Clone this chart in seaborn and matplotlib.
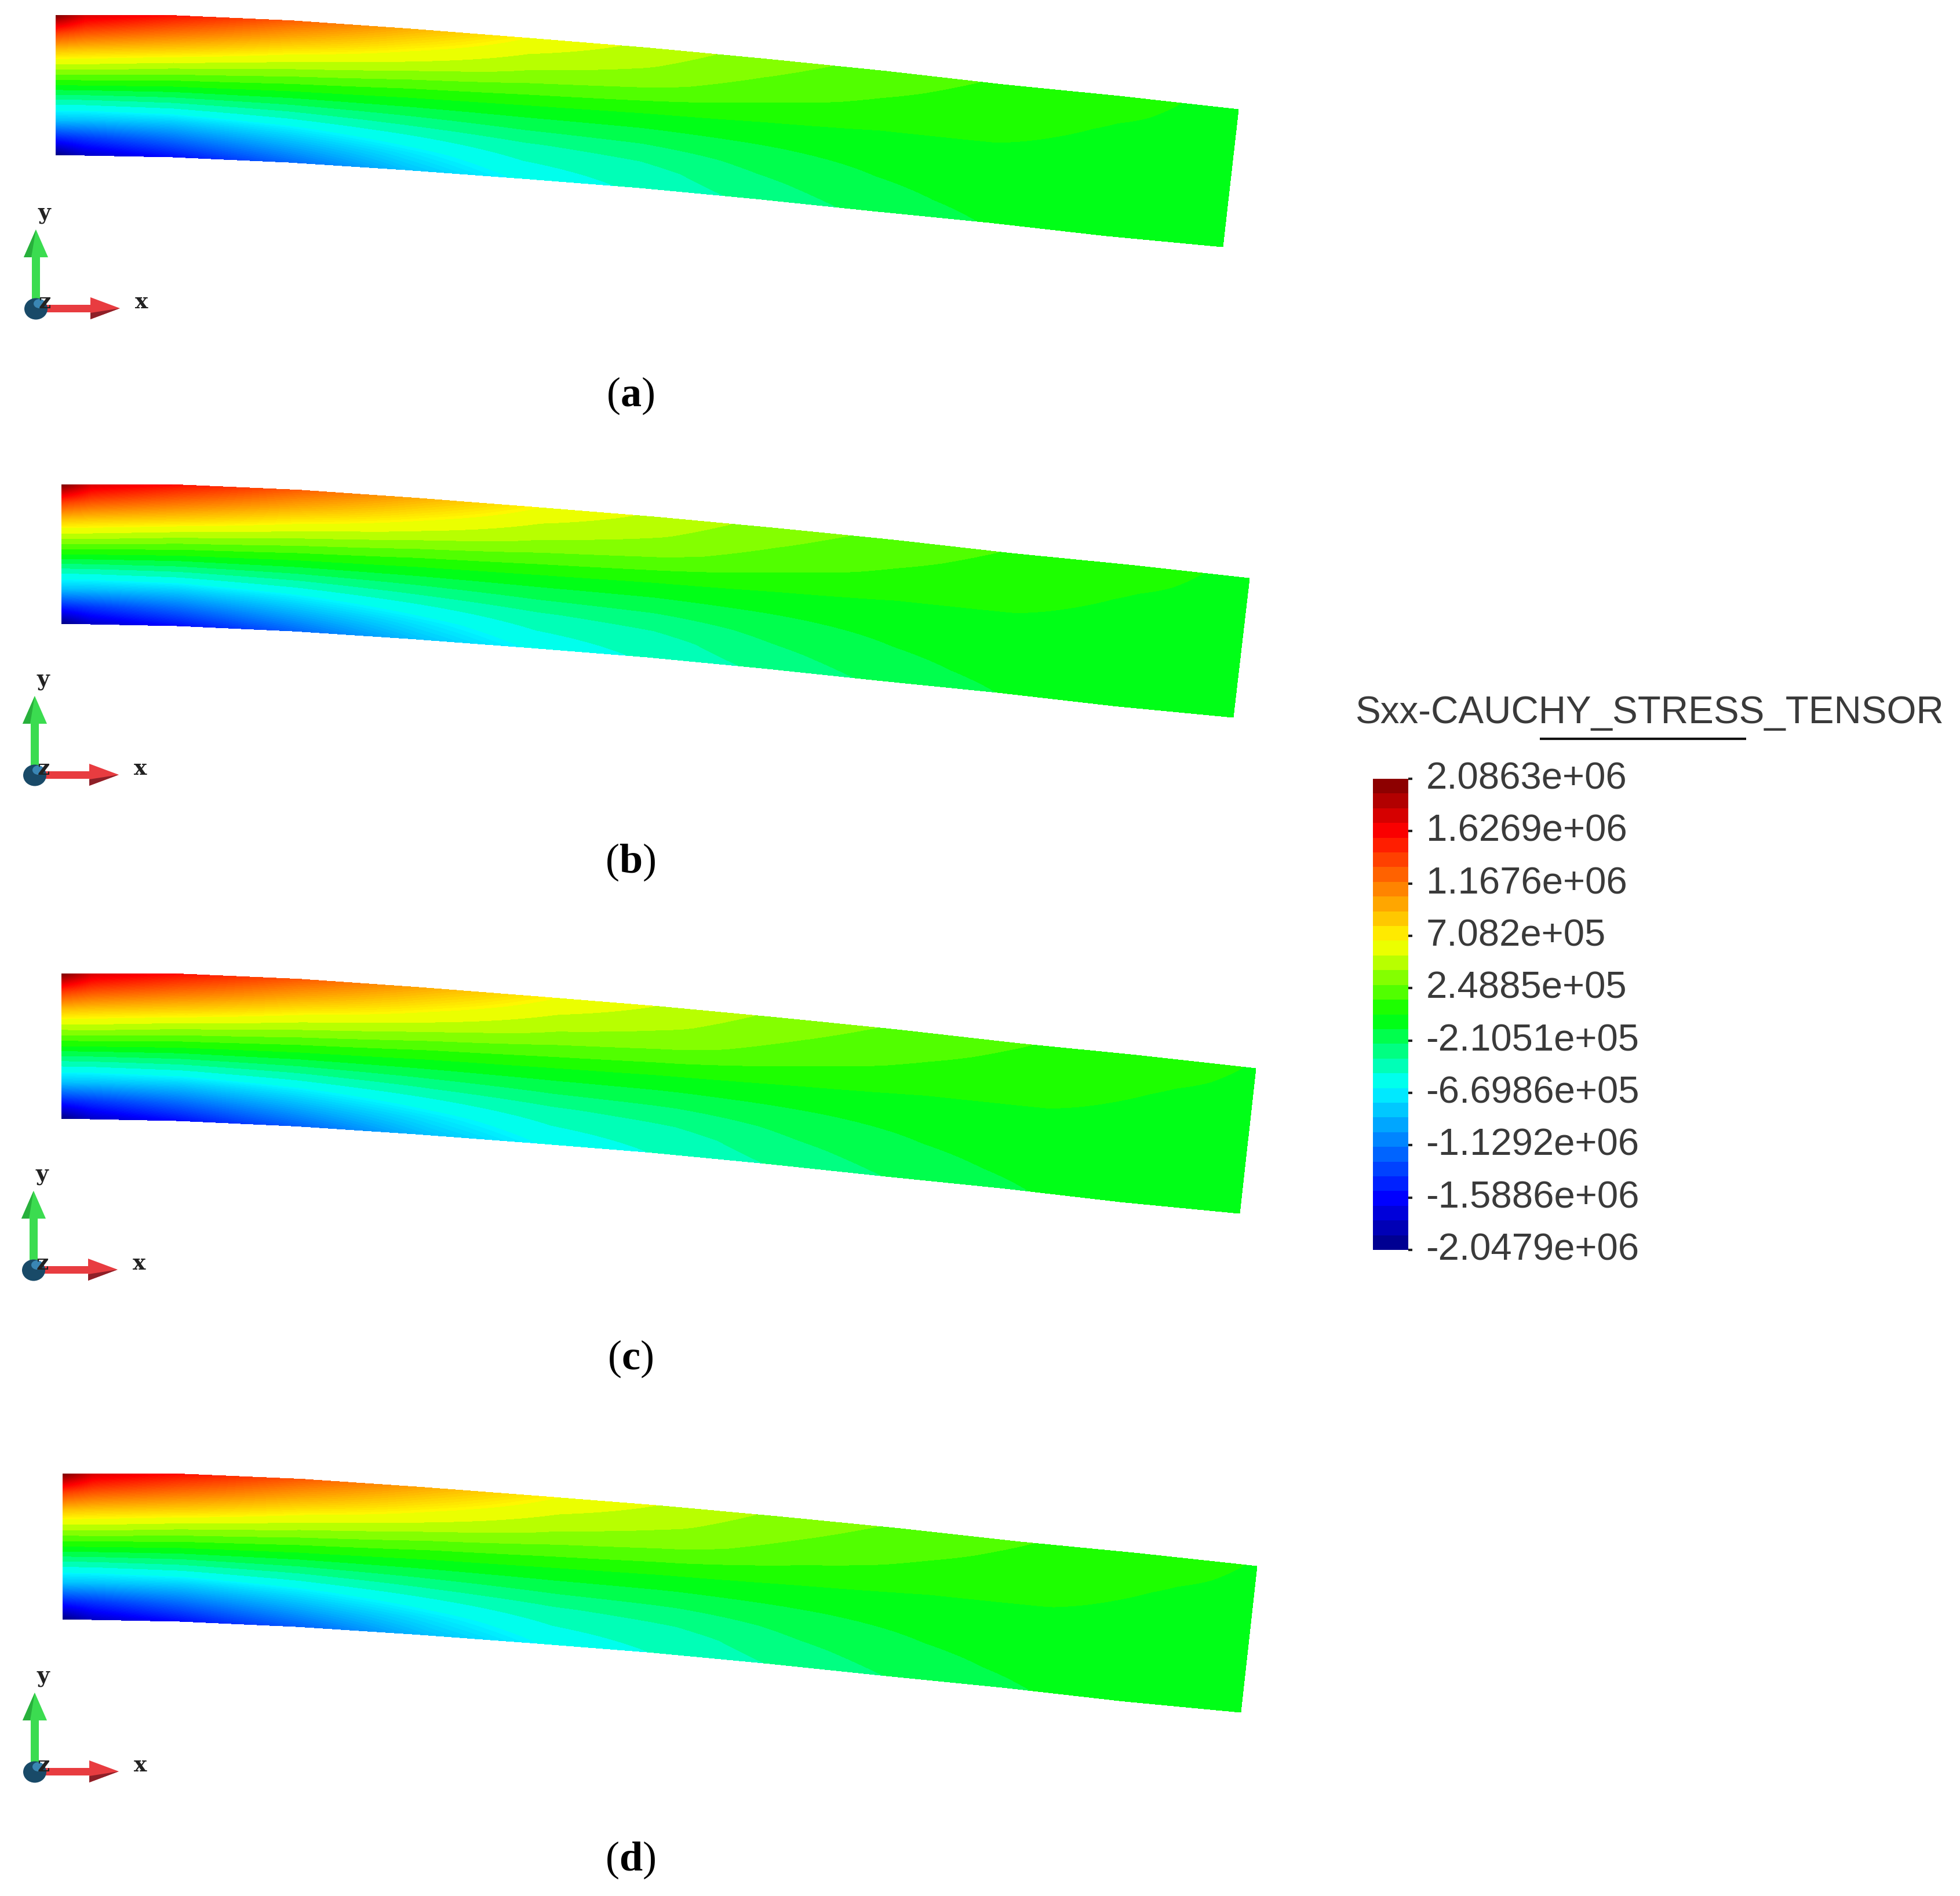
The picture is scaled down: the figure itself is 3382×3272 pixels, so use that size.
import numpy as np
import seaborn as sns
import matplotlib.pyplot as plt
from matplotlib.colors import LinearSegmentedColormap, Normalize
from matplotlib.patches import Polygon, Ellipse, Rectangle
from matplotlib.transforms import ScaledTranslation

W, H = 3382, 3273

# champ de contrainte Sxx (en 1e6 Pa), une ligne par profondeur
stations = [0, .025, .1, .2, .3, .4, .5, .6, .7, .8, .9, 1]
depths = [0, .125, .25, .375, .5, .625, .75, .875, 1]
sxx = [
    [2.08, 1.75, 1.55, 1.25, .95, .66, .50, .34, .23, .13, .045, -.005],
    [1.40, 1.30, 1.18, .95, .72, .52, .42, .28, .18, .09, .03, -.01],
    [.88, .85, .80, .63, .50, .38, .32, .20, .12, .055, .01, -.01],
    [.45, .45, .40, .32, .24, .19, .15, .09, .05, .03, -.005, -.015],
    [.02, .02, .02, .01, -.01, -.02, -.03, -.03, -.03, 0, -.01, -.02],
    [-.45, -.45, -.40, -.33, -.26, -.20, -.17, -.12, -.07, -.03, -.02, -.025],
    [-.85, -.85, -.80, -.65, -.50, -.38, -.32, -.20, -.11, -.05, -.03, -.03],
    [-1.45, -1.38, -1.18, -.92, -.70, -.50, -.42, -.27, -.15, -.07, -.04, -.035],
    [-2.04, -1.80, -1.55, -1.20, -.85, -.60, -.47, -.33, -.20, -.10, -.05, -.04],
]

# flèche relative des bords haut et bas
drop_stations = [0, .1, .2, .3, .4, .5, .6, .7, .8, .9, 1]
top_drop = [0, .005, .06, .147, .245, .347, .465, .592, .735, .86, 1]
bottom_drop = [0, .025, .082, .164, .258, .358, .478, .61, .736, .88, 1]

# géométrie des quatre poutres
panel_names = ['a', 'b', 'c', 'd']
root_x = [96, 106, 106, 108]
root_top = [27, 837, 1681, 2544]
root_bottom = [268, 1077, 1931, 2795]
tip_top_x = [2137, 2156, 2167, 2169]
tip_top_y = [190, 999, 1845, 2704]
tip_bottom_x = [2110, 2128, 2139, 2141]
tip_bottom_y = [427, 1239, 2095, 2956]
field_reach = [1, 1.01, 1.04, 1.04]
triad_x = [62, 60, 58, 60]
triad_y = [533, 1338, 2192, 3058]
label_y = [683, 1488, 2345, 3210]

# barre de couleur
tick_values = [2.0863e6, 1.6269e6, 1.1676e6, 7.082e5, 2.4885e5, -2.1051e5, -6.6986e5, -1.1292e6, -1.5886e6, -2.0479e6]
tick_labels = ['2.0863e+06', '1.6269e+06', '1.1676e+06', '7.082e+05', '2.4885e+05',
               '-2.1051e+05', '-6.6986e+05', '-1.1292e+06', '-1.5886e+06', '-2.0479e+06']
color_title = 'Sxx-CAUCHY_STRESS_TENSOR'
n_bands = 32

sns.set_theme(style='white')
plt.rcParams['font.family'] = ['Liberation Sans', 'DejaVu Sans']
plt.rcParams['mathtext.fontset'] = 'custom'
plt.rcParams['mathtext.rm'] = 'Liberation Serif'
plt.rcParams['mathtext.bf'] = 'Liberation Serif:bold'

rainbow = LinearSegmentedColormap.from_list('rainbow_vtk', [
    (0, (0, 0, .5)), (.11, (0, 0, 1)), (.35, (0, 1, 1)), (.5, (0, 1, 0)),
    (.655, (1, 1, 0)), (.89, (1, 0, 0)), (1, (.5, 0, 0))], N=256)

vmin, vmax = tick_values[-1], tick_values[0]
levels = np.linspace(vmin, vmax, n_bands + 1)
mids = (levels[:-1] + levels[1:]) / 2

# les bandes sont lissées à l'encastrement (image basse résolution), nettes au bout
beam_levels = []
for lo, hi in zip(levels[:-1], levels[1:]):
    n = 4 if abs(lo + hi) / 2 > 6.5e5 else 1
    beam_levels.extend(np.linspace(lo, hi, n, endpoint=False))
beam_levels.append(vmax)

fig = plt.figure(figsize=(W / 100, H / 100), dpi=100)
ax = fig.add_axes([0, 0, 1, 1])
ax.set_xlim(0, W)
ax.set_ylim(H, 0)
ax.axis('off')

# grille fine pour le tracé
t_fine = np.linspace(0, 1, 201)
s_fine = np.linspace(0, 1, 81)
table = np.array(sxx) * 1e6


def draw_triad(x0, y0):
    # axe y vert
    ax.add_patch(Rectangle((x0 - 7, y0 - 90), 14, 90, color='#3bdc50', lw=0))
    ax.add_patch(Polygon([(x0, y0 - 136), (x0 - 21, y0 - 88), (x0 + 21, y0 - 88)], color='#3bdc50', lw=0))
    ax.add_patch(Polygon([(x0, y0 - 136), (x0 - 21, y0 - 88), (x0 - 8, y0 - 88)], color='#28b03c', lw=0))
    # axe x rouge
    ax.add_patch(Rectangle((x0, y0 - 6), 96, 13, color='#e83c40', lw=0))
    ax.add_patch(Polygon([(x0 + 145, y0), (x0 + 94, y0 - 19), (x0 + 94, y0 + 19)], color='#e83c40', lw=0))
    ax.add_patch(Polygon([(x0 + 145, y0), (x0 + 94, y0 + 8), (x0 + 94, y0 + 19)], color='#8e2028', lw=0))
    # sphère bleue
    ax.add_patch(Ellipse((x0, y0 + 1), 40, 37, color='#194a68', lw=0))
    ax.add_patch(Ellipse((x0 + 6, y0 - 8), 20, 16, color='#3a86b4', lw=0))
    kw = dict(family='DejaVu Serif', weight='bold', fontsize=27, color='#222222', ha='center', va='center')
    ax.text(x0 + 14, y0 - 165, 'y', **kw)
    ax.text(x0 + 182, y0 - 11, 'x', **kw)
    ax.text(x0 + 15, y0 - 11, 'z', **kw)


for i, name in enumerate(panel_names):
    x_top = root_x[i] + t_fine * (tip_top_x[i] - root_x[i])
    y_top = root_top[i] + np.interp(t_fine, drop_stations, top_drop) * (tip_top_y[i] - root_top[i])
    x_bot = root_x[i] + t_fine * (tip_bottom_x[i] - root_x[i])
    y_bot = root_bottom[i] + np.interp(t_fine, drop_stations, bottom_drop) * (tip_bottom_y[i] - root_bottom[i])
    X = x_top + np.outer(s_fine, x_bot - x_top)
    Y = y_top + np.outer(s_fine, y_bot - y_top)
    z_t = np.array([np.interp(t_fine / field_reach[i], stations, row) for row in table])
    z = np.array([np.interp(s_fine, depths, col) for col in z_t.T]).T
    ax.contourf(X, Y, z, levels=beam_levels, cmap=rainbow, norm=Normalize(vmin, vmax), antialiased=False)
    draw_triad(triad_x[i], triad_y[i])
    ax.text(1088, label_y[i], '($\\mathbf{' + name + '}$)', family='Liberation Serif', fontsize=52,
            color='black', ha='center', va='center')

# barre de couleur
cax = fig.add_axes([2369 / W, 1 - 2158 / H, 61 / W, 813 / H])
sns.heatmap(mids[::-1].reshape(-1, 1), cmap=rainbow, vmin=vmin, vmax=vmax, cbar=False,
            xticklabels=False, yticklabels=False, ax=cax)
tick_pos = (vmax - np.array(tick_values)) / (vmax - vmin) * n_bands
cax.yaxis.tick_right()
cax.set_yticks(tick_pos)
cax.set_yticklabels(tick_labels, fontsize=47, color='#3a3a3a')
cax.tick_params(axis='y', length=5, width=3, color='#222222', pad=17, right=True)
for lab in cax.get_yticklabels():
    lab.set_transform(lab.get_transform() + ScaledTranslation(0, .07, fig.dpi_scale_trans))

ax.text(2339, 1248, color_title, fontsize=47.2, color='#3a3a3a', ha='left', va='baseline')
ax.plot([2657, 3013], [1276, 1276], color='#111111', lw=3, solid_capstyle='butt')

fig.savefig('out.png', dpi=100, facecolor='white')
